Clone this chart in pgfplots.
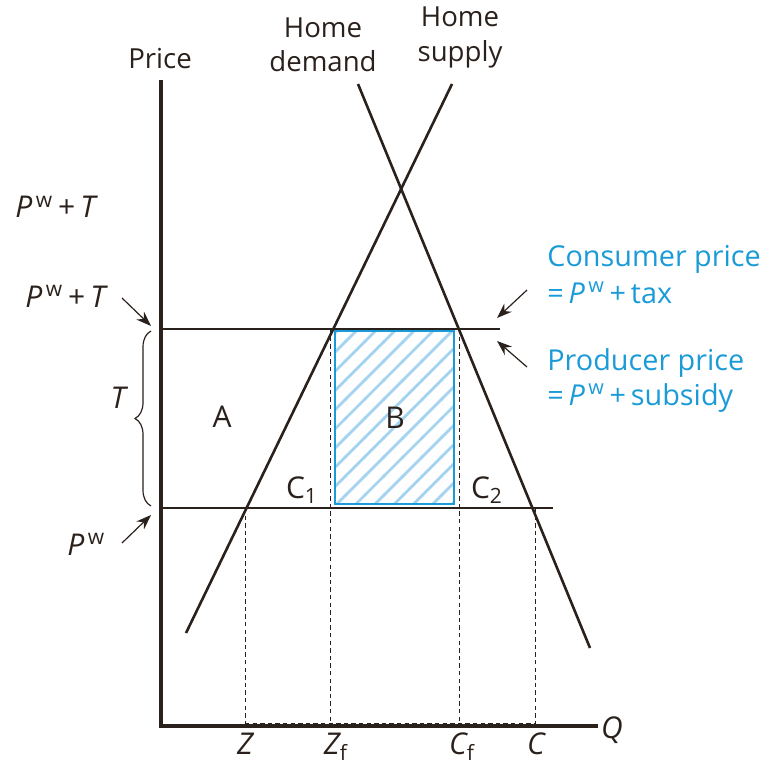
\documentclass[border=0pt]{standalone}
\usepackage{pgfplots}
\pgfplotsset{compat=1.18}
\usepackage{fontspec}
\setmainfont{Open Sans}
\usetikzlibrary{arrows.meta,decorations.pathreplacing,patterns}
\definecolor{ink}{HTML}{2A211C}
\definecolor{sky}{HTML}{1A9BD7}
\definecolor{hatch}{HTML}{A6D3F0}
\pgfdeclarepatternformonly{bighatch}{\pgfqpoint{-1pt}{-1pt}}{\pgfqpoint{10.5pt}{10.5pt}}{\pgfqpoint{9.6pt}{9.6pt}}%
{\pgfsetlinewidth{1.4pt}\pgfpathmoveto{\pgfqpoint{-0.5pt}{-0.5pt}}\pgfpathlineto{\pgfqpoint{10.1pt}{10.1pt}}\pgfusepath{stroke}}
\newcommand{\Pw}{{\itshape P}\textsuperscript{\,w}}
\begin{document}
\begin{tikzpicture}
\begin{axis}[
  hide axis, scale only axis, clip=false,
  width=381.5pt, height=382pt,
  xmin=0, xmax=763, ymin=0, ymax=764, y dir=reverse,
]
% hatched rectangle B
\addplot[draw=sky, line width=1.1pt, pattern=bighatch, pattern color=hatch]
  coordinates {(335,331) (454,331) (454,504) (335,504) (335,331)} -- cycle;
% dashed guides
\addplot[ink, dash pattern=on 2.2pt off 1.6pt, line width=0.5pt] coordinates {(245,508) (245,724)};
\addplot[ink, dash pattern=on 2.2pt off 1.6pt, line width=0.5pt] coordinates {(330,329) (330,724)};
\addplot[ink, dash pattern=on 2.2pt off 1.6pt, line width=0.5pt] coordinates {(459,329) (459,724)};
\addplot[ink, dash pattern=on 2.2pt off 1.6pt, line width=0.5pt] coordinates {(535,508) (535,724)};
\addplot[ink, dash pattern=on 2.2pt off 1.6pt, line width=0.5pt] coordinates {(245,723) (535,723)};
% price lines
\addplot[ink, line width=0.6pt] coordinates {(161,329) (500,329)};
\addplot[ink, line width=0.6pt] coordinates {(161,508) (553,508)};
% supply and demand
\addplot[ink, line width=1.3pt] coordinates {(186,633) (452,84)};
\addplot[ink, line width=1.3pt] coordinates {(358,84) (590,648)};
% axes
\addplot[ink, line width=1.6pt] coordinates {(161,80) (161,726) (598,726)};
% labels
\begin{scope}[every node/.style={text=ink, font=\fontsize{13.8}{15}\selectfont}]
\node[anchor=base] at (axis cs:160,69) {Price};
\node[anchor=base] at (axis cs:323,38) {Home};
\node[anchor=base] at (axis cs:323,72) {demand};
\node[anchor=base] at (axis cs:460,27) {Home};
\node[anchor=base] at (axis cs:460,62) {supply};
\end{scope}
\begin{scope}[every node/.style={text=ink, font=\fontsize{15}{17}\selectfont, inner sep=0pt}]
\node[anchor=base west] at (axis cs:15,218) {\Pw\,+\,{\itshape T}};
\node[anchor=base west] at (axis cs:25,307) {\Pw\,+\,{\itshape T}};
\node[anchor=base] at (axis cs:118,408) {\itshape T};
\node[anchor=base west] at (axis cs:67,555) {\Pw};
\node[anchor=base] at (axis cs:222,427) {A};
\node[anchor=base] at (axis cs:395,428) {B};
\node[anchor=base] at (axis cs:302,498) {C\textsubscript{1}};
\node[anchor=base] at (axis cs:487,498) {C\textsubscript{2}};
\node[anchor=base] at (axis cs:245,754) {\itshape Z};
\node[anchor=base] at (axis cs:336,754) {{\itshape Z}\textsubscript{f}};
\node[anchor=base] at (axis cs:462,754) {{\itshape C}\textsubscript{f}};
\node[anchor=base] at (axis cs:536,754) {\itshape C};
\node[anchor=base] at (axis cs:612,738) {\itshape Q};
\end{scope}
\begin{scope}[every node/.style={text=sky, font=\fontsize{14.4}{16}\selectfont, inner sep=0pt, anchor=base west}]
\node at (axis cs:547,267) {Consumer price};
\node at (axis cs:547,303) {=\,\Pw\,+\,tax};
\node at (axis cs:547,370) {Producer price};
\node at (axis cs:547,405) {=\,\Pw\,+\,subsidy};
\end{scope}
% arrows
\draw[ink, line width=0.6pt, -{Stealth[length=7.5pt,width=5.5pt]}] (axis cs:122,298) -- (axis cs:151,326);
\draw[ink, line width=0.6pt, -{Stealth[length=7.5pt,width=5.5pt]}] (axis cs:122,543) -- (axis cs:151,515);
\draw[ink, line width=0.6pt, -{Stealth[length=7.5pt,width=5.5pt]}] (axis cs:527,290) -- (axis cs:497,318);
\draw[ink, line width=0.6pt, -{Stealth[length=7.5pt,width=5.5pt]}] (axis cs:527,367) -- (axis cs:497,341);
% brace
\draw[ink, line width=0.6pt, decorate, decoration={brace, amplitude=8pt}] (axis cs:151,506) -- (axis cs:151,331);
\end{axis}
\pgfresetboundingbox
\useasboundingbox (current axis.south west) rectangle (current axis.north east);
\end{tikzpicture}
\end{document}
